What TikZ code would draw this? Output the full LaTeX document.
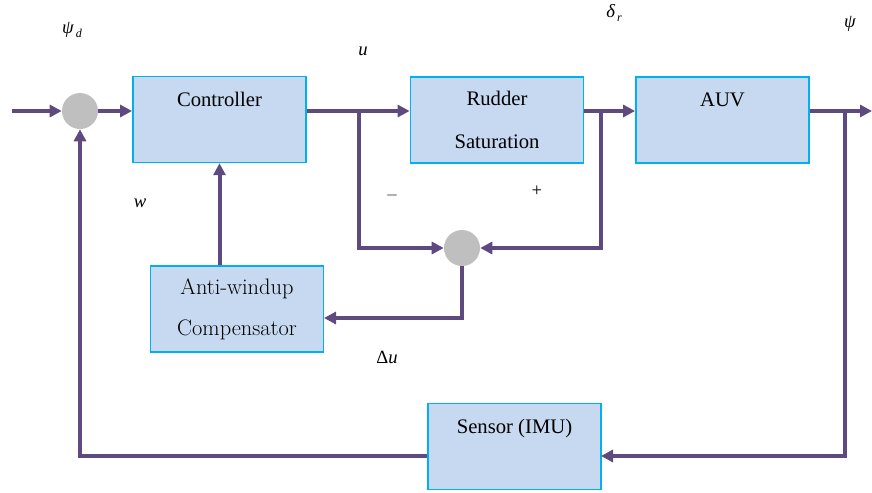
\documentclass[tikz,border=0pt]{standalone}
\usepackage{fontspec}
\usetikzlibrary{arrows.meta}
\newfontfamily\timesfont{Liberation Serif}

\definecolor{sigline}{RGB}{94,74,126}
\definecolor{boxfill}{RGB}{198,217,240}
\definecolor{boxedge}{RGB}{0,176,240}
\definecolor{sumfill}{RGB}{191,191,191}

\newcommand*{\boxwd}{130pt}
\newcommand*{\boxht}{64.5pt}

\begin{document}
\begin{tikzpicture}
[
	x=0.75pt, y=-0.75pt,
	block/.style={rectangle,draw=boxedge,line width=1.1pt,fill=boxfill,minimum width=\boxwd,minimum height=\boxht,inner sep=0pt,align=center,font=\timesfont\fontsize{15.5}{21}\selectfont},
	toptext/.style={label={[anchor=north,yshift=-9pt,font=\timesfont\fontsize{15.5}{18}\selectfont]north:#1}},
	sum/.style={circle,fill=sumfill,inner sep=0pt,minimum size=27pt},
	sig/.style={draw=sigline,line width=3pt,-{Triangle[length=9pt,width=9pt]}},
	lbl/.style={font=\timesfont\itshape\fontsize{14}{16}\selectfont}
]
	\useasboundingbox (0,0) rectangle (872,493);

	% blocks
	\node[block,toptext=Controller] (ctrl) at (219.5,119.5) {};
	\node[block] (rud) at (497,120) {Rudder\\[11pt]Saturation};
	\node[block,toptext=AUV] (auv) at (722.5,120) {};
	\node[block,font=\fontsize{16.8}{21}\selectfont] (awc) at (237,309) {Anti-windup\\[10pt]Compensator};
	\node[block,toptext=Sensor (IMU)] (sens) at (514.5,446.5) {};

	% summing junctions
	\node[sum] (sum1) at (80,111) {};
	\node[sum] (sum2) at (462,248) {};

	% branch points
	\coordinate (in) at (12,111);
	\coordinate (out) at (872,111);
	\coordinate (bu) at (359,111);
	\coordinate (bd) at (601,111);
	\coordinate (bpsi) at (845,111);
	\coordinate (awin) at (324,318);
	\coordinate (sensin) at (601,456);

	% forward path
	\draw[sig] (in) -- (sum1);
	\draw[sig] (sum1) -- (sum1 -| ctrl.west);
	\draw[sig] (ctrl.east |- sum1) -- (rud.west |- sum1);
	\draw[sig] (rud.east |- sum1) -- (auv.west |- sum1);
	\draw[sig] (auv.east |- sum1) -- (out);

	% anti-windup loop
	\draw[sig] (bu) |- (sum2);
	\draw[sig] (bd) |- (sum2);
	\draw[sig] (sum2) |- (awin);
	\draw[sig] (awc.north -| ctrl) -- (ctrl.south);

	% feedback
	\draw[sig] (bpsi) |- (sensin);
	\draw[sig] (sens.west |- sensin) -| (sum1);

	% labels
	\node[lbl] at (72,30) {ψ\raisebox{-0.4ex}{\fontsize{9}{9}\selectfont\,d}};
	\node[lbl] at (363,51) {u};
	\node[lbl] at (614,13) {δ\raisebox{-0.4ex}{\fontsize{9}{9}\selectfont\,r}};
	\node[lbl] at (850,24) {ψ};
	\node[lbl] at (140,203) {w};
	\node[font=\fontsize{12}{14}\selectfont] at (392,195) {$-$};
	\node[font=\timesfont\fontsize{14}{14}\selectfont] at (537,191) {+};
	\node[lbl] at (387,357) {{\upshape Δ}u};
\end{tikzpicture}
\end{document}
